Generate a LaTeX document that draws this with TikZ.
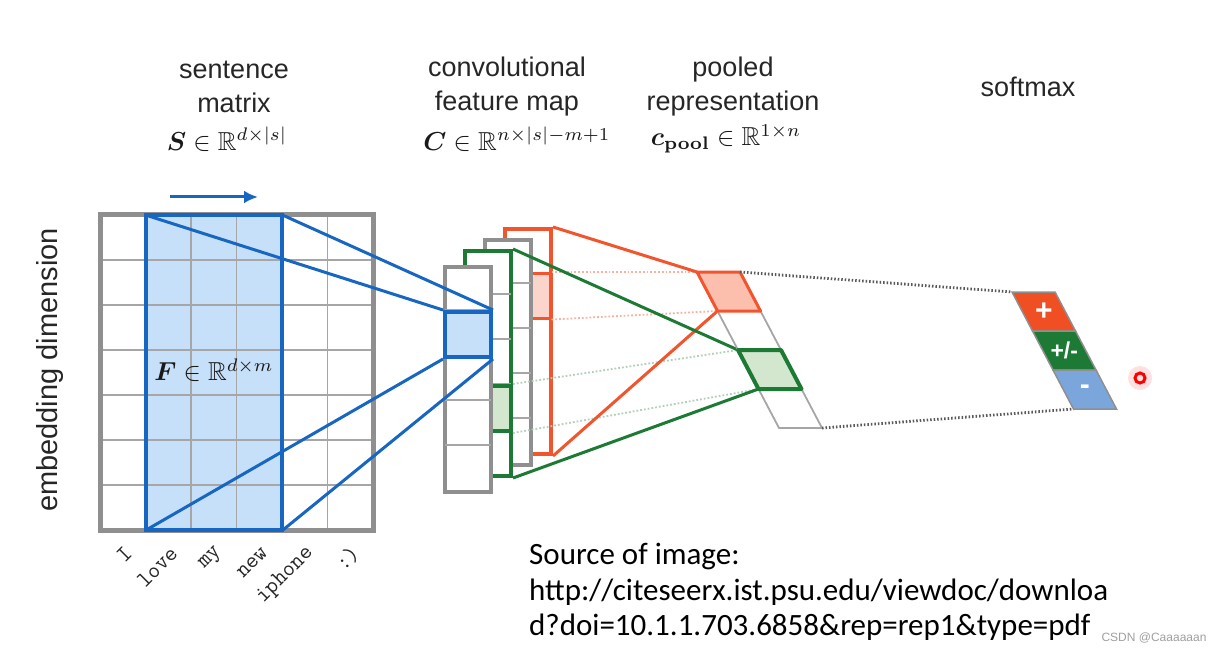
\documentclass[tikz,border=0pt]{standalone}
\usepackage{amsmath}
\usepackage{amssymb}
\usepackage{xcolor}
\usepackage[no-math]{fontspec}
\setmainfont{Liberation Sans}
\newfontfamily\srcfont{Carlito}
\usepackage{tikz}
\usetikzlibrary{arrows,arrows.meta,shapes,positioning,calc}

\definecolor{framegray}{HTML}{8F8F8F}
\definecolor{gridgray}{HTML}{A6A6A6}
\definecolor{filtblue}{HTML}{1766C2}
\definecolor{filtfill}{HTML}{C6E0F9}
\definecolor{redc}{HTML}{F2542D}
\definecolor{redfill}{HTML}{FBD5CC}
\definecolor{poolfill}{HTML}{FCBFAE}
\definecolor{greenc}{HTML}{1D7A34}
\definecolor{greenfill}{HTML}{D3E7CF}
\definecolor{softred}{HTML}{EF4F22}
\definecolor{softgreen}{HTML}{1C7A35}
\definecolor{softblue}{HTML}{7AA6DC}

\tikzset{
  headtxt/.style={align=center, text=black!85, font=\fontsize{27}{34}\selectfont},
  mathlbl/.style={scale=2.6, text=black!90},
  word/.style={font=\ttfamily\fontsize{23}{26}\selectfont, text=black!85, rotate=45, anchor=east, inner sep=0pt},
  gridline/.style={draw=gridgray, line width=1.5pt},
  colline/.style={gridline, shorten <=2pt, shorten >=2pt},
  colbox/.style={draw=framegray, line width=4pt, fill=white, minimum width=46pt, minimum height=225pt, inner sep=0pt, anchor=north west},
  cellbox/.style={line width=4pt, minimum width=46pt, minimum height=45pt, inner sep=0pt, anchor=north west},
  filtline/.style={draw=filtblue, line width=3pt},
  poolcell/.style={draw=gridgray, line width=1.8pt, fill=white},
  link/.style={line width=3pt},
  faint/.style={line width=1.8pt, dotted},
  dots/.style={draw=black!65, line width=2.8pt, dash pattern=on 1.5pt off 2pt},
  softcell/.style={draw=framegray, line width=1.5pt},
  softlbl/.style={text=white, font=\bfseries\fontsize{30}{32}\selectfont},
}

\begin{document}
\begin{tikzpicture}[x=1pt,y=-1pt]
\useasboundingbox (0,0) rectangle (1215,655);

% headings
\node[headtxt] (hs) at (234,87) {sentence\\matrix};
\node[headtxt] (hc) at (507,87) {convolutional\\feature map};
\node[headtxt] (hp) at (733,87) {pooled\\representation};
\node[headtxt] (hx) at (1028,87) {softmax};
\node[mathlbl] (ms) at (227,139) {$\boldsymbol{S}\in\mathbb{R}^{d\times|s|}$};
\node[mathlbl] (mc) at (517,139) {$\boldsymbol{C}\in\mathbb{R}^{n\times|s|-m+1}$};
\node[mathlbl] (mp) at (726,139) {$\boldsymbol{c}_{\mathbf{pool}}\in\mathbb{R}^{1\times n}$};
\node[headtxt, font=\fontsize{29}{34}\selectfont, rotate=90] (emb) at (50,370) {embedding dimension};

% sentence matrix with filter
\node[inner sep=0pt, minimum width=273pt, minimum height=315pt, anchor=north west] (smat) at (100,215) {};
\node[fill=filtfill, inner sep=0pt, minimum width=136.5pt, minimum height=315pt, anchor=north west] (filt) at (145.5,215) {};
\foreach \i in {1,...,5}
  \draw[gridline] ($(smat.north west)+(45.5*\i,0)$) -- ($(smat.south west)+(45.5*\i,0)$);
\foreach \j in {1,...,6}
  \draw[gridline] ($(smat.north west)+(0,45*\j)$) -- ($(smat.north east)+(0,45*\j)$);
\draw[draw=framegray, line width=5pt] (smat.north west) rectangle (smat.south east);
\draw[draw=filtblue, line width=4pt] (filt.north west) rectangle (filt.south east);
\node[mathlbl] (fl) at (214,370) {$\boldsymbol{F}\in\mathbb{R}^{d\times m}$};

\coordinate (arrA) at (170,197);
\coordinate (arrB) at (258,197);
\draw[->,>={Latex[length=14pt,width=13pt]}, draw=filtblue, line width=3pt] (arrA) -- (arrB);

% words
\foreach \w [count=\i] in {I,love,my,new,iphone,{:)}}
  \node[word] (w\i) at ({100+45.5*\i-17},550) {\w};

% feature maps, back to front
\node[colbox, draw=redc] (mapD) at (503,227) {};
\node[cellbox, draw=redc, fill=redfill, line width=2.5pt] (cellD) at ([yshift=-45pt]mapD.north west) {};
\node[colbox] (mapC) at (483,238) {};
\foreach \k in {1,...,4}
  \draw[colline] ([yshift={-45pt*\k}]mapC.north west) -- ([yshift={-45pt*\k}]mapC.north east);
\node[colbox, draw=greenc] (mapB) at (463,249) {};
\foreach \k in {1,...,4}
  \draw[colline] ([yshift={-45pt*\k}]mapB.north west) -- ([yshift={-45pt*\k}]mapB.north east);
\node[cellbox, draw=greenc, fill=greenfill] (cellB) at ([yshift=-135pt]mapB.north west) {};
\node[colbox] (mapA) at (443,265) {};
\foreach \k in {1,...,4}
  \draw[colline] ([yshift={-45pt*\k}]mapA.north west) -- ([yshift={-45pt*\k}]mapA.north east);
\node[cellbox, draw=filtblue, fill=filtfill] (cellA) at ([yshift=-45pt]mapA.north west) {};

\draw[filtline] (filt.north west) -- (cellA.north west);
\draw[filtline] (filt.north east) -- (cellA.north east);
\draw[filtline] (filt.south west) -- (cellA.south west);
\draw[filtline] (filt.south east) -- (cellA.south east);

% pooled representation
\coordinate (p0) at (697,272);
\coordinate (pr-nw) at (p0);
\coordinate (pr-ne) at ($(p0)+(43,0)$);
\coordinate (pr-sw) at ($(p0)+(20.5,39)$);
\coordinate (pg-nw) at ($(p0)+(41,78)$);
\coordinate (pg-sw) at ($(p0)+(61.5,117)$);
\coordinate (p-se) at ($(p0)+(125,156)$);

\draw[faint, draw=redc!45] (cellD.north east) -- (pr-nw);
\draw[faint, draw=redc!45] (cellD.south east) -- (pr-sw);
\draw[faint, draw=greenc!35] (cellB.north east) -- (pg-nw);
\draw[faint, draw=greenc!35] (cellB.south east) -- (pg-sw);
\draw[link, draw=redc] (mapD.north east) -- (pr-nw);
\draw[link, draw=redc] (mapD.south east) -- (pr-sw);
\draw[link, draw=greenc] (mapB.north east) -- (pg-nw);
\draw[link, draw=greenc] (mapB.south east) -- (pg-sw);

\foreach \k in {0,...,3}
  \draw[poolcell] ($(p0)+(20.5*\k,39*\k)$) -- ++(43,0) -- ++(20.5,39) -- ++(-43,0) -- cycle;
\draw[draw=redc, fill=poolfill, line width=3pt, line join=round] (pr-nw) -- (pr-ne) -- ++(20.5,39) -- (pr-sw) -- cycle;
\draw[draw=greenc, fill=greenfill, line width=4pt, line join=round] (pg-nw) -- ++(43,0) -- ++(20.5,39) -- (pg-sw) -- cycle;

% softmax
\coordinate (s0) at (1012,292);
\coordinate (s-sw) at ($(s0)+(61.5,117)$);
\draw[dots] (pr-ne) -- (s0);
\draw[dots] (p-se) -- (s-sw);
\foreach \c [count=\k from 0] in {softred,softgreen,softblue}
  \draw[softcell, fill=\c] ($(s0)+(20.5*\k,39*\k)$) -- ++(43,0) -- ++(20.5,39) -- ++(-43,0) -- cycle;
\node[softlbl] (sp) at ($(s0)+(31.75,19.5)$) {+};
\node[softlbl, font=\bfseries\fontsize{23}{25}\selectfont] (sm) at ($(s0)+(52.25,58.5)$) {+/-};
\node[softlbl] (sn) at ($(s0)+(72.75,97.5)$) {-};

\node[circle, fill=red!12, minimum size=24pt, inner sep=0pt] (glow) at (1140,378) {};
\node[circle, draw=red, line width=3pt, minimum size=10pt, inner sep=0pt] (mark) at (glow) {};

% source
\node[anchor=north west, align=left, inner sep=0pt, font=\srcfont\fontsize{31}{35.5}\selectfont] (src) at (529,543)
  {Source of image:\\http://citeseerx.ist.psu.edu/viewdoc/downloa\\d?doi=10.1.1.703.6858\&rep=rep1\&type=pdf};
\node[anchor=east, text=gray!75, font=\fontsize{12}{14}\selectfont] (wm) at (1210,638) {CSDN @Caaaaaan};
\end{tikzpicture}
\end{document}
